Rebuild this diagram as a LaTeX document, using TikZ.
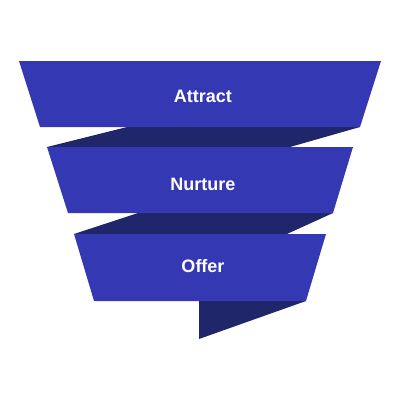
\documentclass[tikz,border=0pt]{standalone}
\usepackage{fontspec}
\setmainfont{Liberation Sans}
\definecolor{funnelblue}{HTML}{3438B3}
\definecolor{funneldark}{HTML}{1F2669}
\begin{document}
\begin{tikzpicture}[x=1pt,y=-1pt,
  band/.style={fill=funnelblue},
  fold/.style={fill=funneldark},
  every node/.style={font=\fontsize{18}{20}\selectfont\bfseries,text=white}]
\useasboundingbox (0,0) rectangle (400,400);
% folds behind the bands
\fill[fold] (127,127) -- (360,127) -- (290,147) -- (47,147) -- cycle;
\fill[fold] (138,213) -- (333,213) -- (287,234) -- (74,234) -- cycle;
\fill[fold] (199,301) -- (306,301) -- (199,339) -- cycle;
% bands
\fill[band] (19,61) -- (381,61) -- (360,127) -- (40,127) -- cycle;
\fill[band] (47,147) -- (353,147) -- (333,213) -- (68,213) -- cycle;
\fill[band] (74,234) -- (326,234) -- (306,301) -- (94,301) -- cycle;
% labels
\node (attract) at (203,96) {Attract};
\node (nurture) at (203,184) {Nurture};
\node (offer) at (203,266) {Offer};
\end{tikzpicture}
\end{document}
